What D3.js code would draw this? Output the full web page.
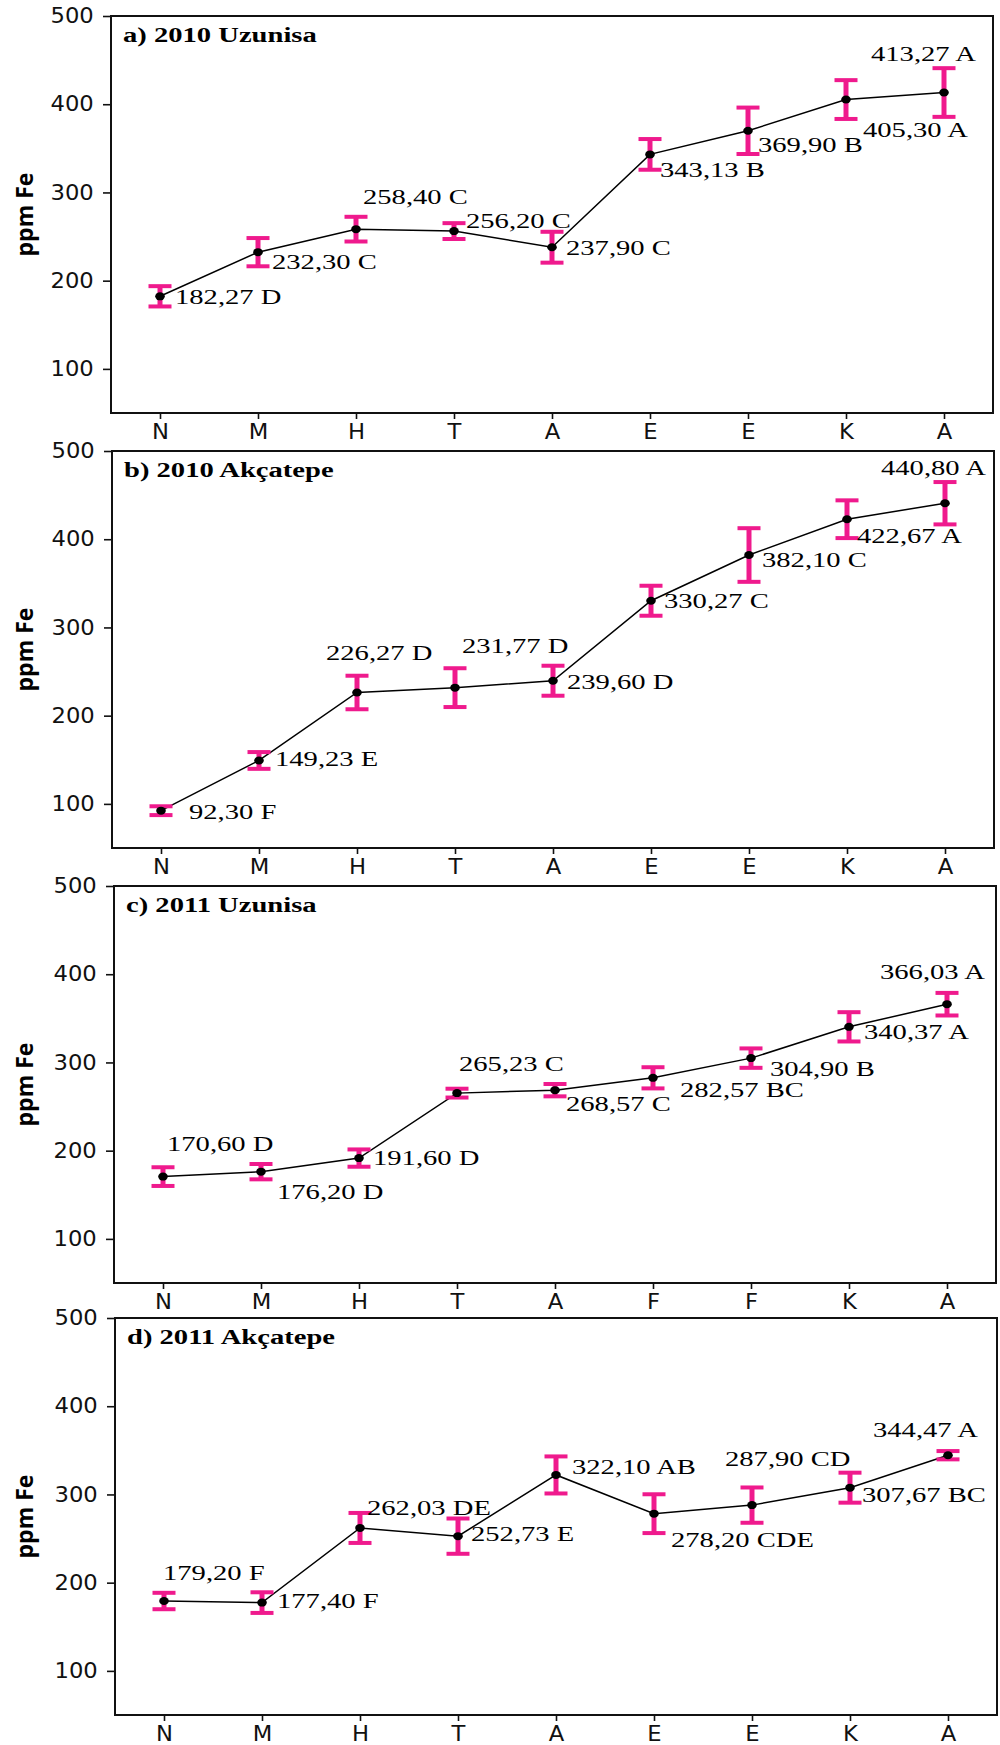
<!DOCTYPE html>
<html>
<head>
<meta charset="utf-8">
<script src="https://cdn.jsdelivr.net/npm/d3@7"></script>
<style>
  html, body { margin: 0; padding: 0; background: #fff; }
  svg { display: block; }
</style>
</head>
<body>
<div id="chart"></div>
<script>
// ---------------- DATA ----------------
const titles = ["a) 2010 Uzunisa", "b) 2010 Akçatepe", "c) 2011 Uzunisa", "d) 2011 Akçatepe"];

const categoriesA = ["N", "M", "H", "T", "A", "E", "E", "K", "A"];
const categoriesB = ["N", "M", "H", "T", "A", "E", "E", "K", "A"];
const categoriesC = ["N", "M", "H", "T", "A", "F", "F", "K", "A"];
const categoriesD = ["N", "M", "H", "T", "A", "E", "E", "K", "A"];

const meansA = [182.27, 232.30, 258.40, 256.20, 237.90, 343.13, 369.90, 405.30, 413.27];
const errorsA = [11.5, 16, 14, 9, 17.5, 17.4, 26.3, 22, 27.6];
const lettersA = ["D", "C", "C", "C", "C", "B", "B", "A", "A"];

const meansB = [92.30, 149.23, 226.27, 231.77, 239.60, 330.27, 382.10, 422.67, 440.80];
const errorsB = [5, 9.5, 19, 22, 17, 17, 30.4, 21.4, 24];
const lettersB = ["F", "E", "D", "D", "D", "C", "C", "A", "A"];

const meansC = [170.60, 176.20, 191.60, 265.23, 268.57, 282.57, 304.90, 340.37, 366.03];
const errorsC = [10.6, 8.7, 9.8, 5, 7, 12, 11, 16.6, 12.8];
const lettersC = ["D", "D", "D", "C", "C", "BC", "B", "A", "A"];

const meansD = [179.20, 177.40, 262.03, 252.73, 322.10, 278.20, 287.90, 307.67, 344.47];
const errorsD = [9.3, 11.7, 17, 20, 21, 22, 20, 17, 4.7];
const lettersD = ["F", "F", "DE", "E", "AB", "CDE", "CD", "BC", "A"];

const yTicks = [100, 200, 300, 400, 500];
const yDomain = [50, 500];
const yAxisLabel = "ppm Fe";

// ---------------- LAYOUT (positions only) ----------------
const panelBoxes = [
  { left: 111, right: 993, top: 16,   bottom: 413 },
  { left: 112, right: 994, top: 451,  bottom: 848 },
  { left: 114, right: 996, top: 886,  bottom: 1283 },
  { left: 115, right: 997, top: 1318, bottom: 1715 }
];
// label offsets [dx, dy] from the point to the label's start/baseline
const labelOffsets = [
  [[15, 8], [14, 17], [7, -25], [12, -3], [14, 8], [10, 23], [10, 21], [17, 37], [-73, -32]],
  [[28, 8], [16, 6], [-31, -32], [7, -35], [14, 8], [13, 7], [13, 12], [10, 24], [-64, -28]],
  [[4, -26], [16, 27], [14, 7], [2, -22], [11, 21], [27, 19], [19, 18], [15, 12], [-67, -25]],
  [[-1, -21], [15, 5], [7, -13], [13, 5], [16, -1], [17, 33], [-27, -39], [12, 14], [-75, -18]]
];

const panels = [
  { title: titles[0], cats: categoriesA, means: meansA, errs: errorsA, letters: lettersA },
  { title: titles[1], cats: categoriesB, means: meansB, errs: errorsB, letters: lettersB },
  { title: titles[2], cats: categoriesC, means: meansC, errs: errorsC, letters: lettersC },
  { title: titles[3], cats: categoriesD, means: meansD, errs: errorsD, letters: lettersD }
];

const PINK = "#EF1A8D";
const SANS = "'DejaVu Sans', Verdana, sans-serif";
const SERIF = "'Liberation Serif', 'Times New Roman', serif";
const SANS_SX = 1.08;
const SERIF_SX = 1.3;

const W = 1000, H = 1745;
const svg = d3.select("#chart").append("svg")
  .attr("width", W).attr("height", H)
  .attr("viewBox", `0 0 ${W} ${H}`);

const fmt = v => d3.format(".2f")(v).replace(".", ",");

panels.forEach((p, pi) => {
  const box = panelBoxes[pi];
  const idx = d3.range(p.means.length);

  const x = d3.scalePoint().domain(idx).range([box.left, box.right]).padding(0.5);
  const y = d3.scaleLinear().domain(yDomain).range([box.bottom, box.top]);

  const g = svg.append("g");

  // y axis
  const yAxis = g.append("g")
    .attr("transform", `translate(${box.left},0)`)
    .call(d3.axisLeft(y).tickValues(yTicks).tickSize(8).tickPadding(8).tickFormat(d3.format("d")));
  yAxis.select(".domain").remove();
  yAxis.selectAll(".tick line").attr("stroke", "#111").attr("stroke-width", 1.6);
  yAxis.selectAll(".tick text")
    .attr("font-family", SANS).attr("font-size", 21).attr("fill", "#111")
    .attr("transform", `scale(${SANS_SX},1)`);

  // x axis
  const xAxis = g.append("g")
    .attr("transform", `translate(0,${box.bottom})`)
    .call(d3.axisBottom(x).tickSize(6).tickPadding(4).tickFormat(i => p.cats[i]));
  xAxis.select(".domain").remove();
  xAxis.selectAll(".tick line").attr("stroke", "#111").attr("stroke-width", 1.6);
  xAxis.selectAll(".tick text")
    .attr("font-family", SANS).attr("font-size", 21).attr("fill", "#111")
    .attr("dy", "0.76em")
    .attr("transform", `scale(${SANS_SX},1)`);

  // frame
  g.append("rect")
    .attr("x", box.left).attr("y", box.top)
    .attr("width", box.right - box.left).attr("height", box.bottom - box.top)
    .attr("fill", "none").attr("stroke", "#111").attr("stroke-width", 2);

  // y label
  g.append("text")
    .attr("transform", `translate(33,${(box.top + box.bottom) / 2}) rotate(-90)`)
    .attr("text-anchor", "middle")
    .attr("font-family", "'Open Sans', sans-serif")
    .attr("font-weight", "bold")
    .attr("font-size", 23)
    .attr("fill", "#000")
    .text(yAxisLabel);

  // title
  g.append("text")
    .attr("transform", `translate(${box.left + 12},${box.top + 26}) scale(${SERIF_SX},1)`)
    .attr("font-family", SERIF).attr("font-weight", "bold").attr("font-size", 22)
    .attr("fill", "#000")
    .text(p.title);

  // line
  g.append("path")
    .datum(idx)
    .attr("fill", "none").attr("stroke", "#000").attr("stroke-width", 1.5)
    .attr("d", d3.line().x(i => x(i)).y(i => y(p.means[i])));

  // error bars
  const eb = g.append("g").selectAll("g").data(idx).join("g");
  eb.append("line")
    .attr("x1", i => x(i)).attr("x2", i => x(i))
    .attr("y1", i => y(p.means[i] - p.errs[i])).attr("y2", i => y(p.means[i] + p.errs[i]))
    .attr("stroke", PINK).attr("stroke-width", 5);
  eb.append("line")
    .attr("x1", i => x(i) - 11.5).attr("x2", i => x(i) + 11.5)
    .attr("y1", i => y(p.means[i] + p.errs[i])).attr("y2", i => y(p.means[i] + p.errs[i]))
    .attr("stroke", PINK).attr("stroke-width", 4);
  eb.append("line")
    .attr("x1", i => x(i) - 11.5).attr("x2", i => x(i) + 11.5)
    .attr("y1", i => y(p.means[i] - p.errs[i])).attr("y2", i => y(p.means[i] - p.errs[i]))
    .attr("stroke", PINK).attr("stroke-width", 4);

  // points
  g.append("g").selectAll("ellipse").data(idx).join("ellipse")
    .attr("cx", i => x(i)).attr("cy", i => y(p.means[i]))
    .attr("rx", 4.8).attr("ry", 4).attr("fill", "#000");

  // value labels
  g.append("g").selectAll("text").data(idx).join("text")
    .attr("transform", i => {
      const o = labelOffsets[pi][i];
      return `translate(${x(i) + o[0]},${y(p.means[i]) + o[1]}) scale(${SERIF_SX},1)`;
    })
    .attr("font-family", SERIF).attr("font-size", 22).attr("fill", "#000")
    .text(i => `${fmt(p.means[i])} ${p.letters[i]}`);
});
</script>
</body>
</html>
